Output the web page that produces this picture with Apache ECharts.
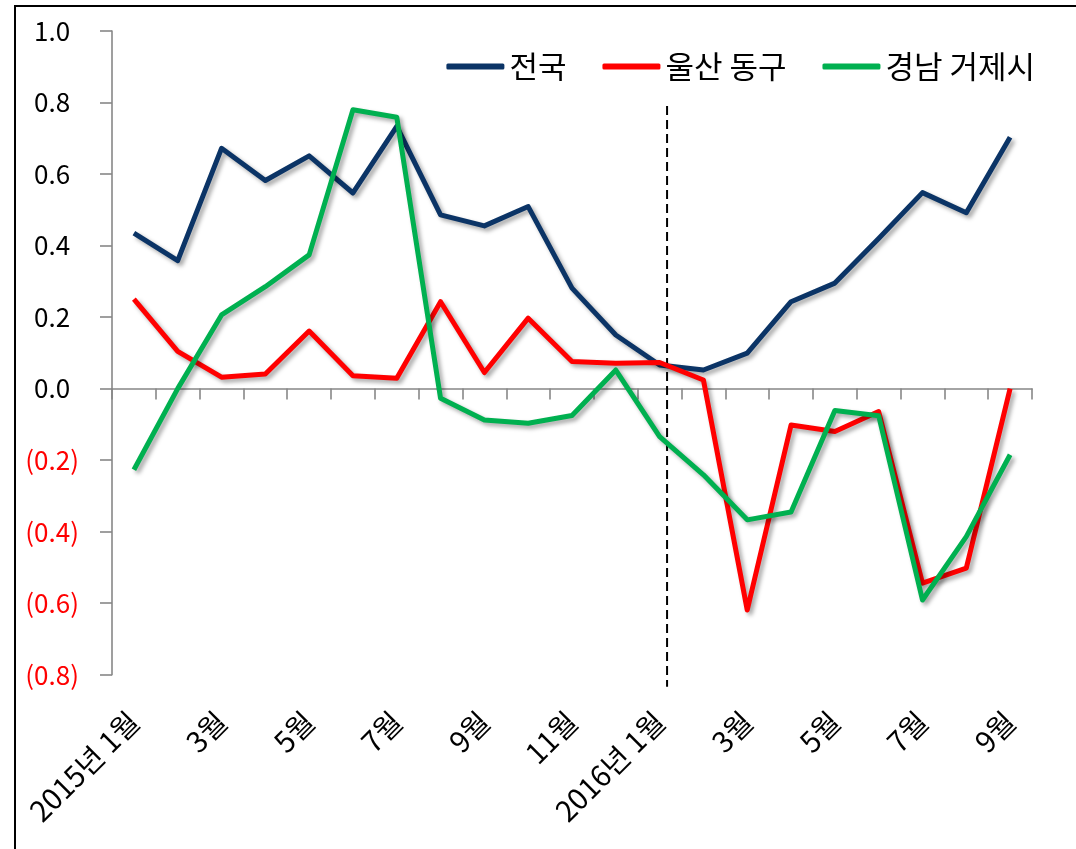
<!DOCTYPE html>
<html>
<head>
<meta charset="utf-8">
<script src="https://cdn.jsdelivr.net/npm/echarts@6/dist/echarts.min.js"></script>
<style>
html,body{margin:0;padding:0;background:#fff;}
#chart{width:1076px;height:849px;}
</style>
</head>
<body>
<div id="chart"></div>
<script>
const categories = ['2015년 1월','2월','3월','4월','5월','6월','7월','8월','9월','10월','11월','12월',
                    '2016년 1월','2월','3월','4월','5월','6월','7월','8월','9월'];
const seriesNames = ['전국','울산 동구','경남 거제시'];
const national = [0.435, 0.358, 0.672, 0.582, 0.651, 0.547, 0.733, 0.486, 0.455, 0.509, 0.281, 0.150,
                  0.066, 0.052, 0.099, 0.243, 0.295, 0.420, 0.548, 0.492, 0.703];
const ulsanDonggu = [0.250, 0.104, 0.032, 0.041, 0.161, 0.036, 0.029, 0.243, 0.045, 0.197, 0.076, 0.071,
                     0.073, 0.024, -0.619, -0.102, -0.120, -0.064, -0.544, -0.502, 0.000];
const geoje = [-0.227, 0.000, 0.206, 0.285, 0.374, 0.780, 0.759, -0.027, -0.088, -0.097, -0.075, 0.052,
               -0.134, -0.241, -0.367, -0.345, -0.061, -0.076, -0.591, -0.414, -0.185];
const yTicks = {min: -0.8, max: 1.0, interval: 0.2};
// vertical dashed divider (category-index position, value range)
const dividerIndex = 12.17;
const dividerRange = [0.79, -0.834];

const FONT = "'Noto Sans CJK KR', 'Noto Sans', sans-serif";
const AXIS_GRAY = '#878787';
const shadow = {shadowColor: 'rgba(0,0,0,0.35)', shadowBlur: 4, shadowOffsetX: 3, shadowOffsetY: 3};
const colors = ['#0b3466', '#ff0000', '#00b050'];
const dataSets = [national, ulsanDonggu, geoje];

const chart = echarts.init(document.getElementById('chart'), null, {renderer: 'canvas'});

const lineSeries = seriesNames.map((name, i) => ({
  name: name,
  type: 'line',
  xAxisIndex: 0,
  yAxisIndex: 0,
  data: dataSets[i],
  symbol: 'none',
  color: colors[i],
  lineStyle: Object.assign({width: 5, color: colors[i], join: 'round'}, shadow),
  z: 3 + i
}));

const option = {
  backgroundColor: '#ffffff',
  animation: false,
  textStyle: {fontFamily: FONT},
  grid: {left: 112, right: 44, top: 31, bottom: 174.3},
  legend: {
    data: seriesNames,
    right: 36,
    top: 46,
    icon: 'roundRect',
    itemWidth: 58,
    itemHeight: 6,
    itemGap: 36,
    textStyle: {fontSize: 31, color: '#000', fontFamily: FONT}
  },
  xAxis: [
    {
      type: 'category',
      data: categories,
      position: 'bottom',
      boundaryGap: true,
      axisLine: {show: false, onZero: false},
      axisTick: {show: false},
      splitLine: {show: false},
      axisLabel: {
        interval: 1,
        rotate: 45,
        margin: 42,
        fontSize: 29,
        color: '#000',
        fontFamily: FONT
      }
    },
    {
      type: 'category',
      data: categories,
      position: 'bottom',
      boundaryGap: true,
      axisLine: {show: true, onZero: true, lineStyle: {color: AXIS_GRAY, width: 1.6}},
      axisTick: {show: true, interval: 0, length: 11, lineStyle: {color: AXIS_GRAY, width: 1.6}},
      axisLabel: {show: false},
      splitLine: {show: false}
    },
    {
      type: 'value',
      min: -0.5,
      max: categories.length - 0.5,
      show: false
    }
  ],
  yAxis: {
    type: 'value',
    min: yTicks.min,
    max: yTicks.max,
    interval: yTicks.interval,
    axisLine: {show: true, onZero: false, lineStyle: {color: AXIS_GRAY, width: 1.6}},
    axisTick: {show: true, length: 12, lineStyle: {color: AXIS_GRAY, width: 1.6}},
    splitLine: {show: false},
    axisLabel: {
      margin: 33,
      fontFamily: FONT,
      formatter: function (v) {
        const s = Math.abs(v).toFixed(1);
        if (v < -1e-9) return '{n|(' + s + ')}';
        return '{p|' + s + '}{h|)}';
      },
      rich: {
        n: {color: '#ff0000', fontSize: 26, fontFamily: FONT},
        p: {color: '#000000', fontSize: 26, fontFamily: FONT},
        h: {color: 'rgba(0,0,0,0)', fontSize: 26, fontFamily: FONT}
      }
    }
  },
  graphic: [
    {
      type: 'rect',
      shape: {x: 15, y: 6, width: 1100, height: 900},
      style: {fill: 'none', stroke: '#000', lineWidth: 2},
      silent: true,
      z: 100
    }
  ],
  series: lineSeries.concat([
    {
      name: 'divider',
      type: 'line',
      xAxisIndex: 2,
      yAxisIndex: 0,
      data: [[dividerIndex, dividerRange[0]], [dividerIndex, dividerRange[1]]],
      symbol: 'none',
      clip: false,
      silent: true,
      lineStyle: {color: '#000', width: 2, type: [9, 5]},
      z: 2
    }
  ])
};

chart.setOption(option);
</script>
</body>
</html>
